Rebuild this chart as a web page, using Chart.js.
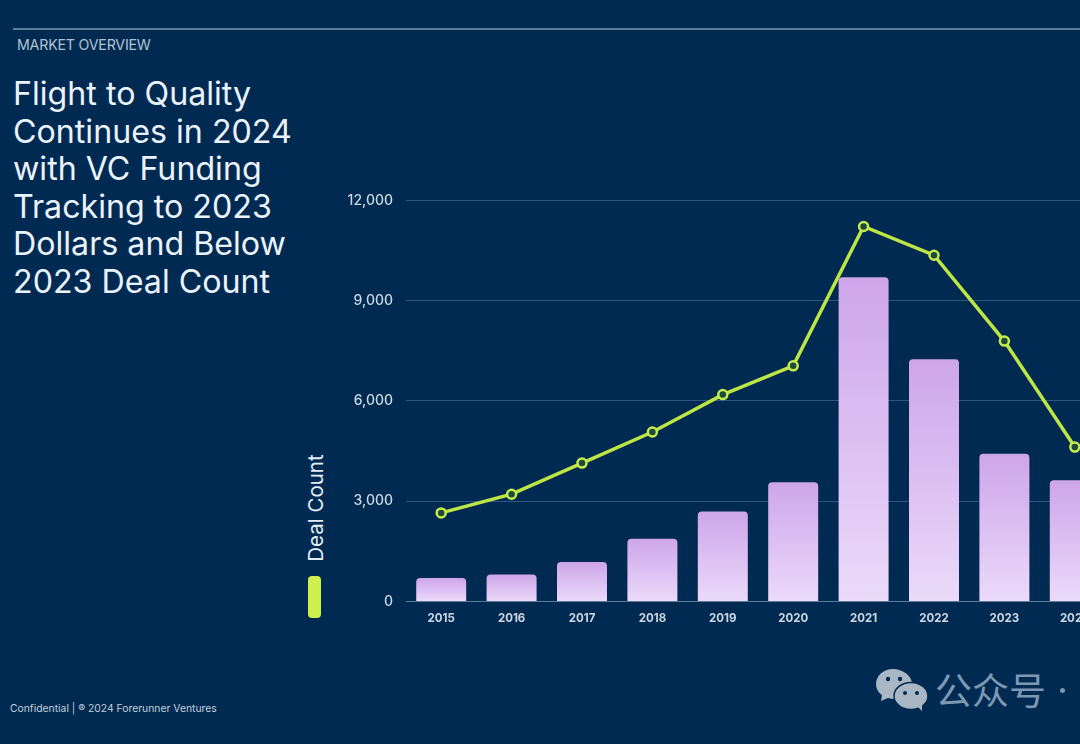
<!DOCTYPE html>
<html>
<head>
<meta charset="utf-8">
<title>Flight to Quality</title>
<script src="https://cdn.jsdelivr.net/npm/chart.js@4"></script>
<style>
    html, body { margin: 0; padding: 0; width: 1080px; height: 744px; overflow: hidden; background: #012a52; }
    body { position: relative; font-family: Inter, "Noto Sans", sans-serif; }
    .rule { position: absolute; left: 13px; right: 0; top: 28px; height: 2px; background: #5d7d9d; }
    .section { position: absolute; left: 17px; top: 36px; font-size: 14.2px; line-height: 17px; color: #b4c3d3; letter-spacing: -0.2px; }
    h1 { position: absolute; left: 13px; top: 75px; margin: 0; font-size: 32.2px; line-height: 37.6px; font-weight: 400; color: #eaf3fb; white-space: nowrap; }
    .footer { position: absolute; left: 10px; top: 702px; font-size: 10.35px; line-height: 12px; color: #c3cfdb; }
    .axis-name { position: absolute; left: 315px; top: 507.5px; transform: translate(-50%, -50%) rotate(-90deg); font-size: 20.5px; color: #e3ebf3; white-space: nowrap; }
    .key { position: absolute; left: 308px; top: 576px; width: 13px; height: 42px; border-radius: 4px; background: #cdf04d; }
    #chart { position: absolute; left: 340px; top: 179px; }
    .wm { position: absolute; left: 876px; top: 668px; }
    .wm-text { position: absolute; left: 935px; top: 667px; font-family: "Noto Sans CJK SC", sans-serif; font-size: 37px; line-height: 44px; color: #7d98b1; white-space: nowrap; }
    .wm-dot { position: absolute; left: 1060px; top: 688px; width: 5px; height: 5px; border-radius: 50%; background: #7d98b1; }
</style>
</head>
<body>
<div class="rule"></div>
<div class="section">MARKET OVERVIEW</div>
<h1>Flight to Quality<br>Continues in 2024<br>with VC Funding<br>Tracking to 2023<br>Dollars and Below<br>2023 Deal Count</h1>
<div class="axis-name">Deal Count</div>
<div class="key"></div>
<canvas id="chart" width="777" height="460"></canvas>
<div class="footer">Confidential | ® 2024 Forerunner Ventures</div>
<svg class="wm" width="52" height="44" viewBox="0 0 52 44">
    <path d="M17 1C7 1 0 8 0 16c0 5 3 9 6 11l-1 6 7-3c2 .5 4 1 6 1 10 0 18-7 18-15S27 1 17 1z" fill="#a9b6c4"/>
    <ellipse cx="35" cy="28" rx="17" ry="13.5" fill="#a9b6c4" stroke="#012a52" stroke-width="1.5"/>
    <path d="M42 39l4 4v-7z" fill="#a9b6c4"/>
    <circle cx="12" cy="11" r="2.2" fill="#012a52"/>
    <circle cx="24" cy="11" r="2.2" fill="#012a52"/>
    <circle cx="29" cy="25" r="2" fill="#012a52"/>
    <circle cx="41" cy="25" r="2" fill="#012a52"/>
</svg>
<div class="wm-text">公众号</div>
<div class="wm-dot"></div>

<script>
const years = ['2015', '2016', '2017', '2018', '2019', '2020', '2021', '2022', '2023', '2024'];
const barValues = [700, 810, 1180, 1880, 2690, 3570, 9700, 7250, 4420, 3630];
const lineValues = [2650, 3210, 4140, 5070, 6190, 7050, 11220, 10360, 7790, 4620];
const yTicks = [0, 3000, 6000, 9000, 12000];

// each bar gets its own top-to-bottom gradient
function barFill(context) {
    const chart = context.chart;
    if (!chart.chartArea || context.parsed === undefined) return '#d9bdf2';
    const top = chart.scales.y.getPixelForValue(context.parsed.y);
    const bottom = chart.scales.y.getPixelForValue(0);
    const grad = chart.ctx.createLinearGradient(0, top, 0, bottom);
    grad.addColorStop(0, '#cea5ea');
    grad.addColorStop(1, '#ebdafa');
    return grad;
}

new Chart(document.getElementById('chart').getContext('2d'), {
    type: 'bar',
    data: {
        labels: years,
        datasets: [
            {
                type: 'line',
                label: 'Dollars',
                data: lineValues,
                order: 0,
                borderColor: '#bde645',
                borderWidth: 3.5,
                tension: 0,
                pointRadius: 4.5,
                pointBackgroundColor: '#1d4a3c',
                pointBorderColor: '#c6ec4a',
                pointBorderWidth: 2.5
            },
            {
                label: 'Deal Count',
                data: barValues,
                order: 1,
                backgroundColor: barFill,
                borderRadius: { topLeft: 4, topRight: 4 },
                borderSkipped: 'bottom',
                barPercentage: 0.71,
                categoryPercentage: 1
            }
        ]
    },
    options: {
        responsive: false,
        animation: false,
        layout: { padding: { top: 20, left: 0, right: 0, bottom: 0 } },
        plugins: { legend: { display: false }, tooltip: { enabled: false } },
        scales: {
            y: {
                min: 0,
                max: 12000,
                afterFit: s => { s.width = 66; },
                afterBuildTicks: s => { s.ticks = yTicks.map(v => ({ value: v })); },
                grid: {
                    color: c => c.tick.value === 0 ? '#5d7d9d' : '#2d557f',
                    lineWidth: 1,
                    drawTicks: false
                },
                border: { display: false },
                ticks: {
                    padding: 13,
                    color: '#cdd7e2',
                    font: { family: 'Inter', size: 14, weight: '500' },
                    callback: v => v.toLocaleString('en-US')
                }
            },
            x: {
                afterFit: s => { s.height = 37.5; },
                grid: { display: false },
                border: { display: false },
                ticks: {
                    padding: 2,
                    maxRotation: 0,
                    color: '#cdd7e2',
                    font: { family: 'Inter', size: 11.5, weight: '700' }
                }
            }
        }
    }
});
</script>
</body>
</html>
